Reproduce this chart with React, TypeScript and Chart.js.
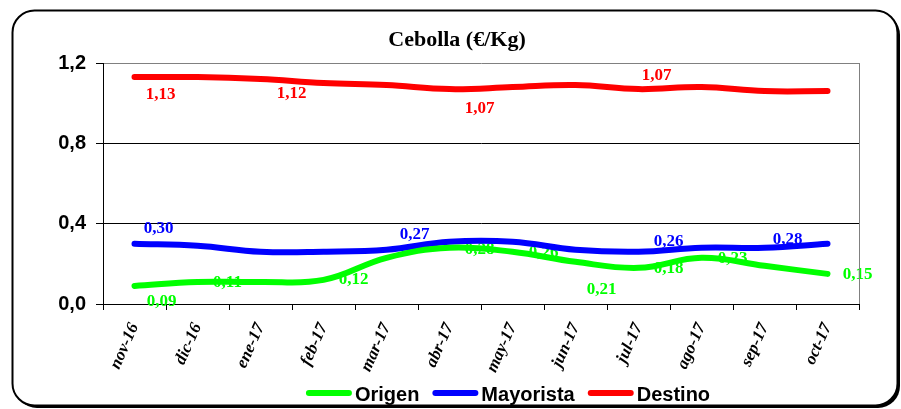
import React, { useEffect, useRef } from "react";
import { Chart, registerables } from "chart.js";
Chart.register(...registerables);

const categories = ["nov-16", "dic-16", "ene-17", "feb-17", "mar-17", "abr-17", "may-17", "jun-17", "jul-17", "ago-17", "sep-17", "oct-17"];
const origen = [0.09, 0.11, 0.11, 0.12, 0.23, 0.28, 0.26, 0.21, 0.18, 0.23, 0.19, 0.15];
const mayorista = [0.30, 0.29, 0.26, 0.26, 0.27, 0.31, 0.31, 0.27, 0.26, 0.28, 0.28, 0.30];
const destino = [1.13, 1.13, 1.12, 1.10, 1.09, 1.07, 1.08, 1.09, 1.07, 1.08, 1.06, 1.06];
const yTicks = [0, 0.4, 0.8, 1.2];
const seriesNames = ["Origen", "Mayorista", "Destino"];
const seriesColors = ["#00FF00", "#0000FF", "#FF0000"];
const titleText = "Cebolla (€/Kg)";

type Off = [number, number] | null;
// label placement offsets relative to each point (dx, dy); null = no label
const origenLabelOffsets: Off[] = [[27, 16], [30, 1], null, [30, 0], null, [30, 2], [31, 1], [26, 28], [30, 1], [31, 1], null, [30, 1]];
const mayoristaLabelOffsets: Off[] = [[24, -15], null, null, null, [28, -15], null, null, null, [30, -10], null, [23, -8], null];
const destinoLabelOffsets: Off[] = [[26, 18], null, [31, 15], null, null, [30, 20], null, null, [18, -13], null, null, null];
const labelOffsets = [origenLabelOffsets, mayoristaLabelOffsets, destinoLabelOffsets];

const SANS = '"Liberation Sans", Arial, sans-serif';
const SERIF = '"Liberation Serif", "Times New Roman", serif';

function roundRect(ctx: CanvasRenderingContext2D, x: number, y: number, w: number, h: number, r: number) {
  ctx.beginPath();
  ctx.moveTo(x + r, y);
  ctx.lineTo(x + w - r, y);
  ctx.arcTo(x + w, y, x + w, y + r, r);
  ctx.lineTo(x + w, y + h - r);
  ctx.arcTo(x + w, y + h, x + w - r, y + h, r);
  ctx.lineTo(x + r, y + h);
  ctx.arcTo(x, y + h, x, y + h - r, r);
  ctx.lineTo(x, y + r);
  ctx.arcTo(x, y, x + r, y, r);
  ctx.closePath();
}

const framePlugin = {
  id: "frame",
  beforeDraw(chart: any) {
    const ctx = chart.ctx as CanvasRenderingContext2D;
    ctx.save();
    ctx.fillStyle = "#fff";
    ctx.fillRect(0, 0, chart.width, chart.height);
    roundRect(ctx, 15, 13, 885, 395, 22);
    ctx.fillStyle = "#000";
    ctx.fill();
    roundRect(ctx, 12.5, 10.5, 885, 395, 22);
    ctx.fillStyle = "#fff";
    ctx.fill();
    ctx.lineWidth = 2;
    ctx.strokeStyle = "#000";
    ctx.stroke();
    ctx.restore();
  },
  afterDraw(chart: any) {
    const ctx = chart.ctx as CanvasRenderingContext2D;
    const ca = chart.chartArea;
    ctx.save();
    // right plot border
    ctx.strokeStyle = "#808080";
    ctx.lineWidth = 1;
    ctx.beginPath();
    ctx.moveTo(Math.round(ca.right) + 0.5, ca.top);
    ctx.lineTo(Math.round(ca.right) + 0.5, ca.bottom);
    ctx.stroke();
    // title
    ctx.fillStyle = "#000";
    ctx.font = "bold 22px " + SERIF;
    ctx.textAlign = "center";
    ctx.textBaseline = "middle";
    ctx.fillText(titleText, 457, 40);
    // legend
    ctx.font = "bold 20px " + SANS;
    const lineLen = 46, gapText = 3, gapEntry = 13;
    const widths = seriesNames.map((n) => ctx.measureText(n).width);
    const total = widths.reduce((a, w) => a + lineLen + gapText + w, 0) + gapEntry * (seriesNames.length - 1);
    let x = 508 - total / 2;
    const y = 394;
    ctx.textAlign = "left";
    seriesNames.forEach((n, i) => {
      ctx.strokeStyle = seriesColors[i];
      ctx.lineWidth = 6;
      ctx.lineCap = "round";
      ctx.beginPath();
      ctx.moveTo(x + 3, y - 1);
      ctx.lineTo(x + lineLen - 3, y - 1);
      ctx.stroke();
      ctx.fillStyle = "#000";
      ctx.fillText(n, x + lineLen + gapText, y + 1);
      x += lineLen + gapText + widths[i] + gapEntry;
    });
    ctx.restore();
  },
};

const labelPlugin = {
  id: "pointLabels",
  beforeDatasetsDraw(chart: any) {
    const ctx = chart.ctx as CanvasRenderingContext2D;
    ctx.save();
    ctx.font = "bold 17px " + SERIF;
    ctx.textAlign = "center";
    ctx.textBaseline = "middle";
    chart.data.datasets.forEach((ds: any, di: number) => {
      const meta = chart.getDatasetMeta(di);
      ctx.fillStyle = seriesColors[di];
      meta.data.forEach((pt: any, i: number) => {
        const off = labelOffsets[di][i];
        if (!off) return;
        const v = ds.data[i] as number;
        ctx.fillText(v.toFixed(2).replace(".", ","), pt.x + off[0], pt.y + off[1]);
      });
    });
    ctx.restore();
  },
};

export default function App() {
  const ref = useRef<HTMLCanvasElement>(null);
  useEffect(() => {
    const canvas = ref.current!;
    const seriesData = [origen, mayorista, destino];
    const chart = new Chart(canvas, {
      type: "line",
      data: {
        labels: categories,
        datasets: seriesNames.map((n, i) => ({
          label: n,
          data: seriesData[i],
          borderColor: seriesColors[i],
          backgroundColor: seriesColors[i],
          borderWidth: 6,
          tension: 0.4,
          pointRadius: 0,
          borderCapStyle: "round" as const,
          borderJoinStyle: "round" as const,
          fill: false,
        })),
      },
      options: {
        responsive: false,
        animation: false,
        devicePixelRatio: 1,
        layout: { padding: { top: 63, left: 20, right: 42, bottom: 25 } },
        plugins: { legend: { display: false }, title: { display: false }, tooltip: { enabled: false } },
        scales: {
          x: {
            type: "category",
            offset: true,
            grid: { offset: true, drawOnChartArea: false, drawTicks: true, tickLength: 6, color: "#000" },
            border: { color: "#000", width: 1 },
            ticks: {
              autoSkip: false,
              minRotation: 66,
              maxRotation: 66,
              padding: 10,
              color: "#000",
              font: { family: SERIF, weight: "bold", style: "italic", size: 17 },
            },
            afterFit: (s: any) => { s.height = 80; },
          },
          y: {
            min: 0,
            max: 1.2,
            afterBuildTicks: (s: any) => { s.ticks = yTicks.map((v) => ({ value: v })); },
            grid: {
              color: (c: any) => (c.tick && c.tick.value === 1.2 ? "#808080" : "#000"),
              tickColor: "#000",
              tickLength: 7,
              lineWidth: 1,
            },
            border: { color: "#000", width: 1 },
            ticks: {
              padding: 10,
              color: "#000",
              font: { family: SANS, weight: "bold", size: 20 },
              callback: (v: any) => Number(v).toFixed(1).replace(".", ","),
            },
            afterFit: (s: any) => { s.width = 83; },
          },
        },
      },
      plugins: [framePlugin, labelPlugin],
    });
    return () => chart.destroy();
  }, []);
  return (
    <div style={{ position: "absolute", left: 0, top: 0, width: 901, height: 409 }}>
      <canvas ref={ref} width={901} height={409} style={{ display: "block", width: 901, height: 409 }} />
    </div>
  );
}
